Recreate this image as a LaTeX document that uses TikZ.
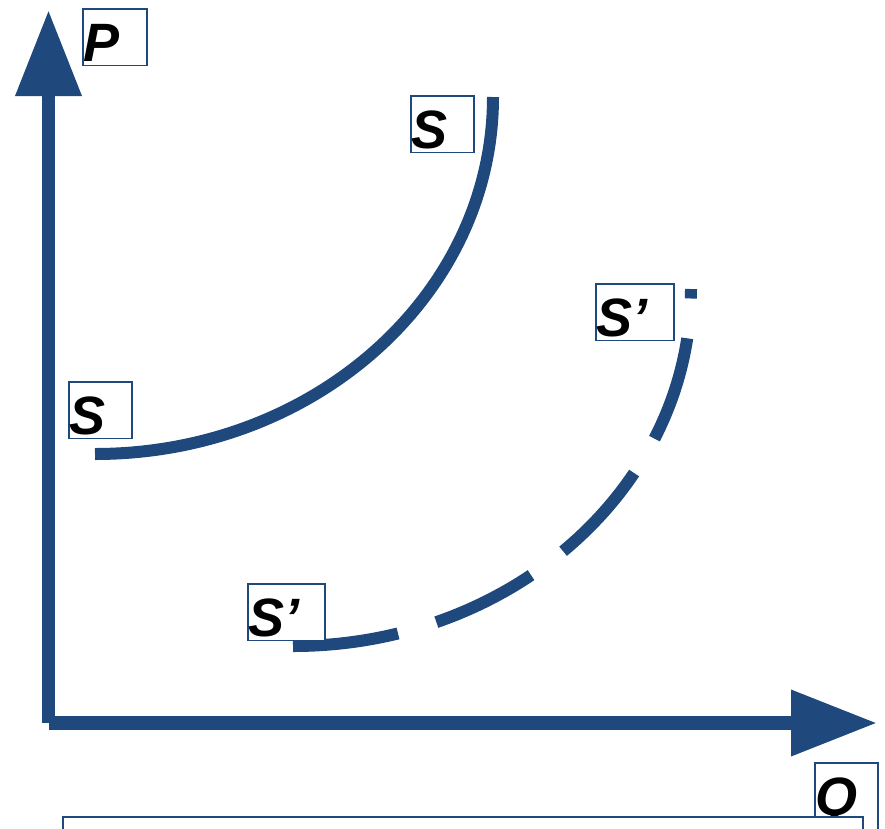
\documentclass[tikz,border=0pt]{standalone}
\usepackage{fontspec}
\setmainfont{Liberation Sans}
\usetikzlibrary{arrows.meta}
\definecolor{axisblue}{HTML}{1F497D}
\tikzset{
  axis/.style={axisblue, line width=13.5pt, -{Triangle[length=86pt, width=63pt]}},
  supply/.style={axisblue, line width=12pt},
  lbl/.style={draw=axisblue, line width=1.8pt, fill=white, anchor=north west,
    text width=#1, align=left, inner xsep=1pt, inner ysep=3.5pt,
    text height=49.5pt, text depth=0pt,
    font=\fontsize{54}{60}\selectfont\bfseries\itshape},
}
\begin{document}
\begin{tikzpicture}[x=1pt, y=-1pt]
  \clip (0,0) rectangle (885,828);
  \coordinate (origin) at (48.5,723);
  \coordinate (ptop) at (48.5,10);
  \coordinate (qend) at (877,723);
  \coordinate (s0) at (95,454);
  \coordinate (s1) at (293,646);
  % axes
  \draw[axis] (origin) -- (ptop);
  \draw[axis] (origin) -- (qend);
  % supply curves
  \draw[supply] (s0) arc[start angle=90, end angle=0, x radius=398, y radius=357];
  \draw[supply, dash pattern=on 106pt off 40pt] (s1)
    arc[start angle=90, end angle=0, x radius=398, y radius=357];
  % labels
  \foreach \n/\x/\y/\w/\t in {plbl/82/8/62pt/P, stop/410/95/61pt/S,
      sleft/68/381/61pt/S, sdtop/595/283/76pt/S’, sdlow/247/583/75pt/S’}
    \node[lbl=\w] (\n) at (\x,\y) {\t};
  \node[lbl=61pt, text depth=40pt] (qlbl) at (814,762) {Q};
  \node[draw=axisblue, line width=1.8pt, fill=white, anchor=north west,
    minimum width=800pt, minimum height=60pt, inner sep=0pt] (caption) at (62,816) {};
\end{tikzpicture}
\end{document}
